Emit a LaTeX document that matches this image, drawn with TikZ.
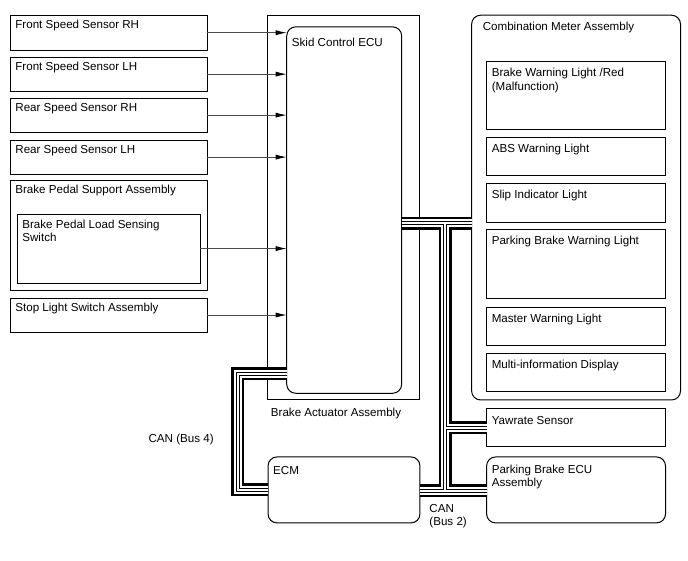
\documentclass[tikz,border=0pt]{standalone}
\usepackage{fontspec}
\setmainfont{Liberation Sans}
\usetikzlibrary{arrows.meta}
\begin{document}
\begin{tikzpicture}[scale=1.000000,x=1pt,y=-1pt,
  box/.style={draw=black, line width=1pt, anchor=north west, inner sep=0pt, outer sep=0pt},
  rbox/.style={box, rounded corners=9pt},
  lbl/.style={anchor=north west, inner sep=0pt, align=left, font=\fontsize{11.6pt}{13.4pt}\selectfont},
  sig/.style={draw=black!70, line width=0.8pt, -{Latex[length=11pt,width=5pt,color=black]}},
  canbus/.style={draw=black, line width=13pt,
    postaction={draw=white, line width=8pt},
    postaction={draw=black, line width=4pt},
    postaction={draw=white, line width=2pt}}]
\filldraw[color=white] (0.000000,0.000000) rectangle (688.000000,560.000000);
% Drawing sensor boxes
% Box 1: Front Speed Sensor RH
\node[box, minimum width=197pt, minimum height=35pt] (fsrh) at (10.000000,15.000000) {};
\node[lbl] (fsrhtxt) at ([shift={(5pt,-5pt)}]fsrh.north west) {Front Speed Sensor RH};
% Box 2: Front Speed Sensor LH
\node[box, minimum width=197pt, minimum height=34pt] (fslh) at (10.000000,57.000000) {};
\node[lbl] (fslhtxt) at ([shift={(5pt,-5pt)}]fslh.north west) {Front Speed Sensor LH};
% Box 3: Rear Speed Sensor RH
\node[box, minimum width=197pt, minimum height=34pt] (rsrh) at (10.000000,98.000000) {};
\node[lbl] (rsrhtxt) at ([shift={(5pt,-5pt)}]rsrh.north west) {Rear Speed Sensor RH};
% Box 4: Rear Speed Sensor LH
\node[box, minimum width=197pt, minimum height=34pt] (rslh) at (10.000000,140.000000) {};
\node[lbl] (rslhtxt) at ([shift={(5pt,-5pt)}]rslh.north west) {Rear Speed Sensor LH};
% Box 5: Brake Pedal Support Assembly, with the switch inside
\node[box, minimum width=197pt, minimum height=110pt] (bpsa) at (10.000000,180.000000) {};
\node[lbl] (bpsatxt) at ([shift={(5pt,-4.5pt)}]bpsa.north west) {Brake Pedal Support Assembly};
\node[box, minimum width=183pt, minimum height=69pt] (bpls) at (17.000000,214.000000) {};
\node[lbl] (bplstxt) at ([shift={(5pt,-5.5pt)}]bpls.north west) {Brake Pedal Load Sensing\\Switch};
% Box 6: Stop Light Switch Assembly
\node[box, minimum width=197pt, minimum height=34pt] (stop) at (10.000000,298.000000) {};
\node[lbl] (stoptxt) at ([shift={(5pt,-5pt)}]stop.north west) {Stop Light Switch Assembly};
% Done with sensors; drawing actuator and ECUs
\node[box, minimum width=152.3pt, minimum height=384.5pt] (act) at (267.700000,15.500000) {};
\node[lbl] (acttxt) at ([shift={(3pt,-8pt)}]act.south west) {Brake Actuator Assembly};
\node[rbox, minimum width=115pt, minimum height=366.6pt] (ecu) at (286.700000,26.700000) {};
\node[lbl] (ecutxt) at ([shift={(5pt,-11pt)}]ecu.north west) {Skid Control ECU};
\node[rbox, minimum width=152pt, minimum height=66pt] (ecm) at (268.000000,457.000000) {};
\node[lbl] (ecmtxt) at ([shift={(5pt,-9.5pt)}]ecm.north west) {ECM};
% Combination meter with its lights
\node[rbox, minimum width=209pt, minimum height=385pt] (meter) at (471.700000,15.000000) {};
\node[lbl] (metertxt) at ([shift={(11pt,-6.5pt)}]meter.north west) {Combination Meter Assembly};
\node[box, minimum width=179pt, minimum height=68.3pt] (bwl) at (486.700000,61.000000) {};
\node[lbl] (bwltxt) at ([shift={(5pt,-7pt)}]bwl.north west) {Brake Warning Light /Red\\(Malfunction)};
\node[box, minimum width=179pt, minimum height=38pt] (absl) at (486.700000,137.000000) {};
\node[lbl] (absltxt) at ([shift={(5pt,-7pt)}]absl.north west) {ABS Warning Light};
\node[box, minimum width=179pt, minimum height=39pt] (slip) at (486.700000,183.000000) {};
\node[lbl] (sliptxt) at ([shift={(5pt,-7pt)}]slip.north west) {Slip Indicator Light};
\node[box, minimum width=179pt, minimum height=69pt] (pbwl) at (486.700000,229.000000) {};
\node[lbl] (pbwltxt) at ([shift={(5pt,-7pt)}]pbwl.north west) {Parking Brake Warning Light};
\node[box, minimum width=179pt, minimum height=38pt] (mwl) at (486.700000,307.000000) {};
\node[lbl] (mwltxt) at ([shift={(5pt,-7pt)}]mwl.north west) {Master Warning Light};
\node[box, minimum width=179pt, minimum height=39pt] (mid) at (486.700000,353.000000) {};
\node[lbl] (midtxt) at ([shift={(5pt,-7pt)}]mid.north west) {Multi-information Display};
% Yawrate sensor and parking brake ECU
\node[box, minimum width=179pt, minimum height=38pt] (yaw) at (486.700000,409.000000) {};
\node[lbl] (yawtxt) at ([shift={(5pt,-7pt)}]yaw.north west) {Yawrate Sensor};
\node[rbox, minimum width=179pt, minimum height=66pt] (pbecu) at (486.700000,457.000000) {};
\node[lbl] (pbecutxt) at ([shift={(5pt,-8pt)}]pbecu.north west) {Parking Brake ECU\\Assembly};
% Done with boxes; drawing signal arrows
\draw[sig] (fsrh.east) -- (fsrh.east -| ecu.west);
\draw[sig] (fslh.east) -- (fslh.east -| ecu.west);
\draw[sig] (rsrh.east) -- (rsrh.east -| ecu.west);
\draw[sig] (rslh.east) -- (rslh.east -| ecu.west);
\draw[sig] (bpls.east) -- (bpls.east -| ecu.west);
\draw[sig] (stop.east) -- (stop.east -| ecu.west);
% Done with arrows; drawing CAN buses
\coordinate (b4top) at (237.500000,374.000000);
\coordinate (b4bot) at (237.500000,490.000000);
\draw[canbus] (ecu.west |- b4top) -- (b4top) -- (b4bot) -- (ecm.west |- b4bot);
\node[lbl] (b4txt) at (148.300000,434.300000) {CAN (Bus 4)};
\coordinate (b2top) at (445.500000,223.000000);
\coordinate (b2yaw) at (445.500000,428.000000);
\coordinate (b2bot) at (445.500000,491.000000);
\draw[canbus] (ecu.east |- b2top) -- (meter.west |- b2top)
  (b2top) -- (b2bot)
  (b2yaw) -- (yaw.west |- b2yaw)
  (ecm.east |- b2bot) -- (pbecu.west |- b2bot);
\node[lbl] (b2txt) at ([shift={(9.3pt,-13pt)}]ecm.east |- b2bot) {CAN\\(Bus 2)};
% Done with buses
\end{tikzpicture}
\end{document}
